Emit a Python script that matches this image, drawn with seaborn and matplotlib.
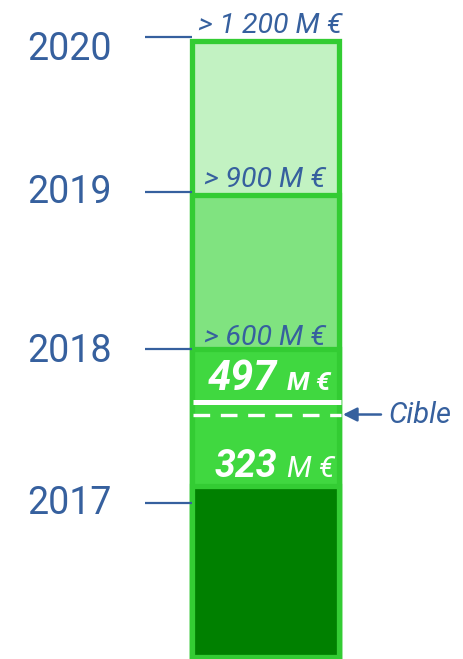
import matplotlib
matplotlib.use("Agg")
import matplotlib.pyplot as plt
import seaborn as sns
import pandas as pd

# ---- data (M€) ----
segment_tops = [1200, 900, 600, 333]          # cumulative tops, drawn back to front
segment_colors = ["#c2f2c2", "#80e380", "#40d840", "#008000"]
threshold_labels = ["> 1 200 M €", "> 900 M €", "> 600 M €"]
threshold_values = [1200, 900, 600]
years = ["2020", "2019", "2018", "2017"]
year_marks = [1207, 905, 600, 300]
value_2018 = 497
value_2017 = 323
target = 472

sns.set_theme(style="white")
plt.rcParams["font.family"] = ["Roboto", "DejaVu Sans"]

BLUE = "#36609e"
EDGE = "#33cc33"

W, H = 464, 659
fig = plt.figure(figsize=(W / 100, H / 100), dpi=100)
ax = fig.add_axes([0, 0, 1, 1])

# pixel mapping for layout
BAR_L, BAR_R = 192.5, 339.5
Y0_PX, PX_PER = 657.0, (657.0 - 40.5) / 1200.0
def px2x(px):
    return -0.5 + (px - BAR_L) / (BAR_R - BAR_L)
def px2y(py):
    return (Y0_PX - py) / PX_PER

for top, col in zip(segment_tops, segment_colors):
    d = pd.DataFrame({"cat": ["Total"], "v": [top]})
    sns.barplot(data=d, x="cat", y="v", color=col, saturation=1, width=1.0,
                edgecolor=EDGE, linewidth=3.8, ax=ax)

ax.set_xlim(px2x(0), px2x(W))
ax.set_ylim(px2y(H), px2y(0))
ax.axis("off")

# 2018 value line (solid) and target (dashed)
ax.plot([px2x(193), px2x(341)], [value_2018, value_2018], color="white", lw=3.6,
        solid_capstyle="butt", zorder=5)
ax.plot([px2x(193), px2x(341)], [target, target], color="white", lw=2.4,
        dashes=(5, 3.2), zorder=5)

# year ticks and labels
year_label_px = [49, 192.5, 351.7, 504]
for yr, ym, lp in zip(years, year_marks, year_label_px):
    ax.plot([px2x(145), px2x(192)], [ym, ym], color=BLUE, lw=1.6, zorder=6,
            solid_capstyle="butt")
    ax.text(px2x(27), px2y(lp), yr, color=BLUE, fontsize=27, ha="left",
            va="center", family=["Roboto", "DejaVu Sans"])

# threshold labels
thr_pos = [(270, 33), (264.5, 186.7), (265, 345)]
for lab, (cx, by) in zip(threshold_labels, thr_pos):
    ax.text(px2x(cx), px2y(by), lab, color=BLUE, fontsize=20.5, style="italic",
            ha="center", va="baseline", zorder=7)

# value labels
ax.text(px2x(277), px2y(390), f"{value_2018}", color="white", fontsize=30,
        style="italic", weight="bold", ha="right", va="baseline", zorder=7)
ax.text(px2x(287), px2y(390), "M €", color="white", fontsize=19,
        style="italic", weight="bold", ha="left", va="baseline", zorder=7)
ax.text(px2x(277), px2y(476.7), f"{value_2017}", color="white", fontsize=27,
        style="italic", weight="bold", ha="right", va="baseline", zorder=7)
ax.text(px2x(287), px2y(476.7), "M €", color="white", fontsize=21,
        style="italic", ha="left", va="baseline", zorder=7)

# target annotation
ax.annotate("", xy=(px2x(343), target), xytext=(px2x(381), target),
            arrowprops=dict(arrowstyle="-|>,head_length=0.7,head_width=0.35",
                            color=BLUE, lw=1.8, shrinkA=0, shrinkB=0), zorder=7)
ax.text(px2x(388), target, "Cible", color=BLUE, fontsize=21, style="italic",
        ha="left", va="center", zorder=7)

fig.savefig("out.png", dpi=100)
